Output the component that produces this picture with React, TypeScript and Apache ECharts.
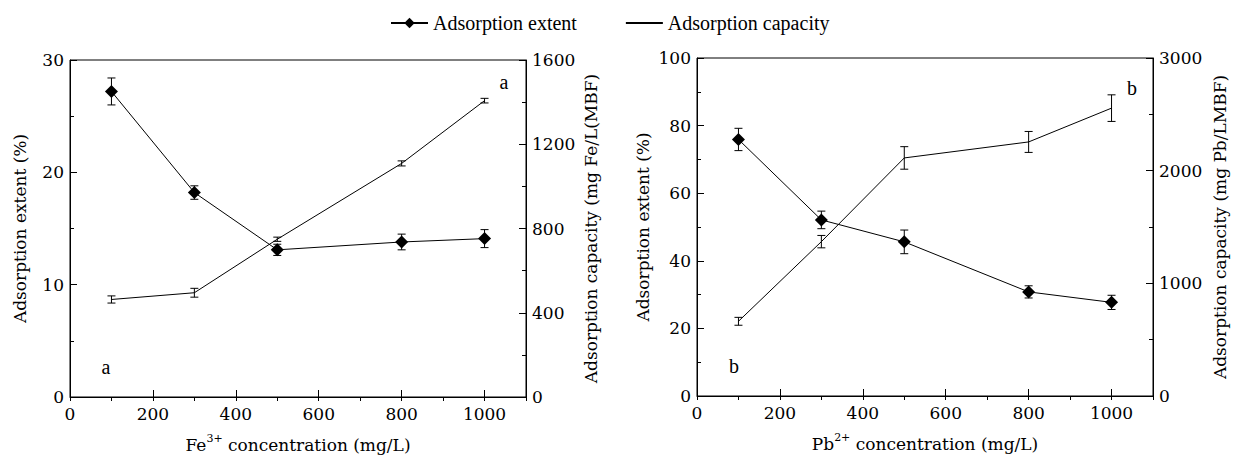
import React, { useEffect, useRef } from "react";
import * as echarts from "echarts";

const xValues = [100, 300, 500, 800, 1000];

// Left chart (Fe3+)
const feExtent = [27.2, 18.2, 13.1, 13.8, 14.1];
const feExtentErr = [1.2, 0.6, 0.5, 0.7, 0.8];
const feCapacity = [463, 495, 749, 1109, 1407];
const feCapacityErr = [17, 21, 10, 12, 11];

// Right chart (Pb2+)
const pbExtent = [75.9, 52.1, 45.6, 30.8, 27.7];
const pbExtentErr = [3.3, 2.6, 3.5, 1.8, 2.1];
const pbCapacity = [663, 1370, 2113, 2255, 2555];
const pbCapacityErr = [35, 55, 100, 93, 118];

const legendNames = ["Adsorption extent", "Adsorption capacity"];
const FONT = "'Liberation Serif', 'Times New Roman', serif";
const AXIS_FONT = "DejaVu Serif";
const AXIS_SIZE = 17;

function pairs(ys: number[]) {
  return xValues.map((x, i) => [x, ys[i]]);
}
function triples(ys: number[], es: number[]) {
  return xValues.map((x, i) => [x, ys[i], es[i]]);
}

const errRender = (params: any, api: any) => {
  const x = api.value(0);
  const y = api.value(1);
  const e = api.value(2);
  const top = api.coord([x, y + e]);
  const bot = api.coord([x, y - e]);
  const w = 4;
  const style = { stroke: "#000", lineWidth: 1 };
  return {
    type: "group",
    children: [
      { type: "line", shape: { x1: top[0], y1: top[1], x2: bot[0], y2: bot[1] }, style },
      { type: "line", shape: { x1: top[0] - w, y1: top[1], x2: top[0] + w, y2: top[1] }, style },
      { type: "line", shape: { x1: bot[0] - w, y1: bot[1], x2: bot[0] + w, y2: bot[1] }, style },
    ],
  };
};

const legendText = { color: "#000", fontFamily: FONT, fontSize: 20 };
const axisText = { color: "#000", fontFamily: AXIS_FONT, fontSize: AXIS_SIZE, fontWeight: "normal", fontStyle: "normal" };
const fmt = (v: number) => String(v);

function xAxes(gridIndex: number, ion: string[]) {
  return [
    {
      type: "value",
      gridIndex,
      min: 0,
      max: 1100,
      interval: 200,
      name: `{a|${ion[0]}}{s|${ion[1]}}{a| concentration (mg/L)}`,
      nameLocation: "middle",
      nameGap: 36,
      nameTextStyle: {
        ...axisText,
        rich: {
          a: { ...axisText, lineHeight: 20, verticalAlign: "bottom" },
          s: { ...axisText, fontSize: 11, lineHeight: 20, verticalAlign: "top" },
        },
      },
      axisLine: { show: true, lineStyle: { color: "#000", width: 1 } },
      axisTick: { show: true, inside: true, length: 7, lineStyle: { color: "#000" } },
      axisLabel: { ...axisText, margin: 8, showMaxLabel: false, formatter: fmt },
      splitLine: { show: false },
    },
    {
      type: "value",
      gridIndex,
      min: 0,
      max: 1100,
      interval: 100,
      axisLine: { show: false },
      axisTick: { show: true, inside: true, length: 4, lineStyle: { color: "#000" } },
      axisLabel: { show: false },
      splitLine: { show: false },
    },
  ];
}

function yAxis(gridIndex: number, pos: string, max: number, interval: number, name: string, nameGap: number) {
  return {
    type: "value",
    gridIndex,
    position: pos,
    min: 0,
    max,
    interval,
    name,
    nameLocation: "middle",
    nameGap,
    nameTextStyle: { ...axisText },
    axisLine: { show: true, onZero: false, lineStyle: { color: "#000", width: 1 } },
    axisTick: { show: true, inside: true, length: 7, lineStyle: { color: "#000" } },
    minorTick: { show: true, splitNumber: 2, length: 4, lineStyle: { color: "#000" } },
    axisLabel: { ...axisText, margin: 6, formatter: fmt },
    splitLine: { show: false },
    minorSplitLine: { show: false },
  };
}

function lineSeries(name: string, xIdx: number, yIdx: number, data: number[][], diamond: boolean) {
  return {
    type: "line",
    name,
    xAxisIndex: xIdx,
    yAxisIndex: yIdx,
    data,
    symbol: diamond ? "diamond" : "none",
    symbolSize: 13,
    showSymbol: diamond,
    itemStyle: { color: "#000" },
    lineStyle: { color: "#000", width: 1 },
    z: 3,
  };
}

function errSeries(name: string, xIdx: number, yIdx: number, data: number[][]) {
  return {
    type: "custom",
    name,
    xAxisIndex: xIdx,
    yAxisIndex: yIdx,
    data,
    encode: { x: 0, y: 1 },
    renderItem: errRender,
    z: 2,
  };
}

const annot = (text: string, x: number, y: number) => ({
  type: "text",
  x,
  y,
  style: { text, fill: "#000", font: `20px ${FONT}`, textAlign: "center", textVerticalAlign: "middle" },
});

export default function App() {
  const ref = useRef<HTMLDivElement>(null);
  useEffect(() => {
    document.body.style.margin = "0";
    const chart = echarts.init(ref.current!, null, { renderer: "svg" });
    const option = {
      animation: false,
      backgroundColor: "#fff",
      textStyle: { fontFamily: FONT },
      legend: {
        data: [
          { name: legendNames[0] },
          { name: legendNames[1], itemStyle: { opacity: 0 } },
        ],
        left: 385,
        top: 8,
        itemWidth: 37,
        itemHeight: 13,
        itemGap: 48,
        textStyle: { ...legendText },
      },
      grid: [
        { left: 70, right: 1240 - 526, top: 60, bottom: 456 - 397, outerBoundsMode: "none", containLabel: false, show: true, borderColor: "#000", borderWidth: 1, backgroundColor: "transparent" },
        { left: 697, right: 1240 - 1153, top: 58, bottom: 456 - 396, outerBoundsMode: "none", containLabel: false, show: true, borderColor: "#000", borderWidth: 1, backgroundColor: "transparent" },
      ],
      xAxis: [...xAxes(0, ["Fe", "3+"]), ...xAxes(1, ["Pb", "2+"])],
      yAxis: [
        yAxis(0, "left", 30, 10, "Adsorption extent (%)", 42),
        yAxis(0, "right", 1600, 400, "Adsorption capacity (mg Fe/L(MBF)", 56),
        yAxis(1, "left", 100, 20, "Adsorption extent (%)", 46),
        yAxis(1, "right", 3000, 1000, "Adsorption capacity (mg Pb/LMBF)", 58),
      ],
      series: [
        errSeries("feExtentErr", 0, 0, triples(feExtent, feExtentErr)),
        errSeries("feCapErr", 0, 1, triples(feCapacity, feCapacityErr)),
        lineSeries(legendNames[0], 0, 0, pairs(feExtent), true),
        lineSeries(legendNames[1], 0, 1, pairs(feCapacity), false),
        errSeries("pbExtentErr", 2, 2, triples(pbExtent, pbExtentErr)),
        errSeries("pbCapErr", 2, 3, triples(pbCapacity, pbCapacityErr)),
        lineSeries(legendNames[0], 2, 2, pairs(pbExtent), true),
        lineSeries(legendNames[1], 2, 3, pairs(pbCapacity), false),
      ],
      graphic: [annot("a", 106, 367), annot("a", 504, 82), annot("b", 734, 366), annot("b", 1132, 88)],
    };
    chart.setOption(option as any);
    return () => chart.dispose();
  }, []);
  return <div ref={ref} style={{ width: 1240, height: 456 }} />;
}
